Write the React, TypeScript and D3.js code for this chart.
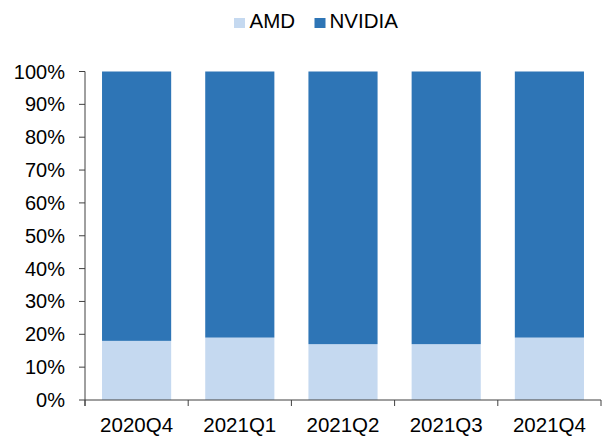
import React from 'react';
import * as d3 from 'd3';

const quarters = ['2020Q4', '2021Q1', '2021Q2', '2021Q3', '2021Q4'];
const amdShare = [18, 19, 17, 17, 19];
const nvidiaShare = [82, 81, 83, 83, 81];
const yTicks = [0, 10, 20, 30, 40, 50, 60, 70, 80, 90, 100];

const seriesNames = ['AMD', 'NVIDIA'];
const colors: Record<string, string> = { AMD: '#C5D9F0', NVIDIA: '#2E75B6' };

const width = 604;
const height = 437;
const margin = { top: 71.5, right: 3, bottom: 37, left: 85 };
const font = 'Liberation Sans, Arial, sans-serif';

export default function App() {
  const rows = quarters.map((q, i) => ({ q, AMD: amdShare[i], NVIDIA: nvidiaShare[i] }));
  const stack = d3.stack<any>().keys(seriesNames)(rows);

  const x = d3
    .scaleBand()
    .domain(quarters)
    .range([margin.left, width - margin.right])
    .paddingInner(0.33)
    .paddingOuter(0.165);
  const y = d3
    .scaleLinear()
    .domain([0, 100])
    .range([height - margin.bottom, margin.top]);

  const step = x.step();
  const axisColor = '#404040';

  return (
    <svg
      width={width}
      height={height}
      style={{ position: 'absolute', left: 0, top: 0, background: '#fff' }}
      fontFamily={font}
    >
      {/* Bars */}
      {stack.map(layer => (
        <g key={layer.key} fill={colors[layer.key]}>
          {layer.map((d, i) => (
            <rect
              key={i}
              x={x(quarters[i])}
              width={x.bandwidth()}
              y={y(d[1])}
              height={y(d[0]) - y(d[1])}
            />
          ))}
        </g>
      ))}

      {/* Y axis */}
      <line x1={margin.left} x2={margin.left} y1={y(100)} y2={y(0) + 6} stroke={axisColor} />
      {yTicks.map(t => (
        <g key={t}>
          <line x1={margin.left - 6} x2={margin.left} y1={y(t)} y2={y(t)} stroke={axisColor} />
          <text x={65} y={y(t) + 7} textAnchor="end" fontSize={20} fill="#000">
            {t}%
          </text>
        </g>
      ))}

      {/* X axis */}
      <line
        x1={margin.left}
        x2={margin.left + step * quarters.length}
        y1={y(0)}
        y2={y(0)}
        stroke={axisColor}
      />
      {d3.range(quarters.length + 1).map(i => (
        <line
          key={i}
          x1={margin.left + step * i}
          x2={margin.left + step * i}
          y1={y(0)}
          y2={y(0) + 6}
          stroke={axisColor}
        />
      ))}
      {quarters.map(q => (
        <text
          key={q}
          x={(x(q) as number) + x.bandwidth() / 2}
          y={432}
          textAnchor="middle"
          fontSize={20.5}
          fill="#000"
        >
          {q}
        </text>
      ))}

      {/* Legend */}
      <g>
        <rect x={234} y={18} width={11} height={10} fill={colors.AMD} />
        <text x={249.5} y={28.3} fontSize={20.5} fill="#000">
          AMD
        </text>
        <rect x={314.5} y={18} width={11} height={10} fill={colors.NVIDIA} />
        <text x={329.5} y={28.3} fontSize={20.5} fill="#000">
          NVIDIA
        </text>
      </g>
    </svg>
  );
}
